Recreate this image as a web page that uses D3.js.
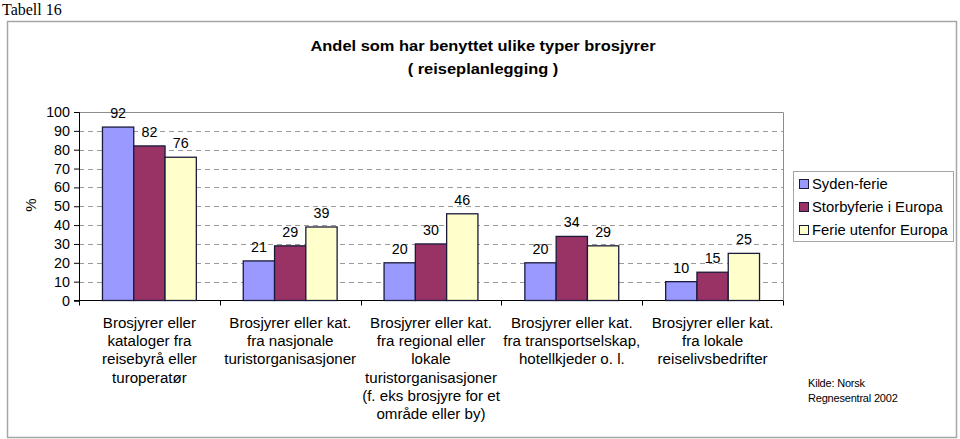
<!DOCTYPE html>
<html>
<head>
<meta charset="utf-8">
<script src="https://cdn.jsdelivr.net/npm/d3@7"></script>
<style>
  html, body { margin: 0; padding: 0; background: #fff; }
  svg { display: block; }
</style>
</head>
<body>
<svg id="chart" width="960" height="439"></svg>
<script>
const categories = [
  ["Brosjyrer eller", "kataloger fra", "reisebyrå eller", "turoperatør"],
  ["Brosjyrer eller kat.", "fra nasjonale", "turistorganisasjoner"],
  ["Brosjyrer eller kat.", "fra regional eller", "lokale", "turistorganisasjoner", "(f. eks brosjyre for et", "område eller by)"],
  ["Brosjyrer eller kat.", "fra transportselskap,", "hotellkjeder o. l."],
  ["Brosjyrer eller kat.", "fra lokale", "reiselivsbedrifter"]
];
const seriesNames = ["Syden-ferie", "Storbyferie i Europa", "Ferie utenfor Europa"];
const sydenFerie = [92, 21, 20, 20, 10];
const storbyferie = [82, 29, 30, 34, 15];
const ferieUtenfor = [76, 39, 46, 29, 25];
const yTicks = [0, 10, 20, 30, 40, 50, 60, 70, 80, 90, 100];
const seriesColors = ["#9999FF", "#993366", "#FFFFCC"];
const titleLines = ["Andel som har benyttet ulike typer brosjyrer", "( reiseplanlegging )"];
const sourceLines = ["Kilde: Norsk", "Regnesentral 2002"];

const series = [sydenFerie, storbyferie, ferieUtenfor];
const svg = d3.select("#chart");
const font = "'Liberation Sans', Arial, sans-serif";

// Header text
svg.append("text").attr("x", 2).attr("y", 15)
  .attr("font-family", "'Liberation Serif', 'Times New Roman', serif")
  .attr("font-size", 16).attr("fill", "#000").text("Tabell 16");

// Outer frame
svg.append("rect").attr("x", 7.5).attr("y", 21.5).attr("width", 949).attr("height", 416)
  .attr("fill", "#fff").attr("stroke", "#a6a6a6").attr("stroke-width", 1.5);

// Title
svg.selectAll("text.title").data(titleLines).enter().append("text")
  .attr("class", "title")
  .attr("transform", (d, i) => `translate(483,${51 + i * 22.5}) scale(1.06,1)`)
  .attr("text-anchor", "middle").attr("font-family", font)
  .attr("font-weight", "bold").attr("font-size", 15.5).text(d => d);

const plot = { left: 79, right: 783, top: 112, bottom: 300.5 };

const x0 = d3.scaleBand().domain(d3.range(categories.length))
  .range([plot.left, plot.right]).paddingInner(0).paddingOuter(0);
const x1 = d3.scaleBand().domain(d3.range(series.length))
  .range([0, x0.bandwidth() * 2 / 3]);
const groupOffset = x0.bandwidth() / 6;
const y = d3.scaleLinear().domain([0, 100]).range([plot.bottom, plot.top]);

// Gridlines
svg.append("g").selectAll("line").data(yTicks.filter(t => t > 0 && t < 100)).enter()
  .append("line")
  .attr("x1", plot.left).attr("x2", plot.right)
  .attr("y1", d => Math.round(y(d)) + 0.5).attr("y2", d => Math.round(y(d)) + 0.5)
  .attr("stroke", "#9a9a9a").attr("stroke-dasharray", "5,4").attr("stroke-width", 1);

// Plot border (top/right)
svg.append("path")
  .attr("d", `M${plot.left},${Math.round(plot.top) + 0.5}H${plot.right + 0.5}V${plot.bottom}`)
  .attr("fill", "none").attr("stroke", "#8c8c8c").attr("stroke-width", 1);

// Y axis
const yAxis = d3.axisLeft(y).tickValues(yTicks).tickSize(5).tickPadding(4);
const gy = svg.append("g").attr("transform", `translate(${plot.left},0)`).call(yAxis);
gy.select(".domain").attr("stroke", "#000");
gy.selectAll(".tick line").attr("stroke", "#000");
gy.selectAll(".tick text").attr("font-family", font).attr("font-size", 14.3).attr("fill", "#000");

// X axis (bottom line + ticks at band boundaries)
svg.append("line").attr("x1", plot.left - 5).attr("x2", plot.right)
  .attr("y1", plot.bottom).attr("y2", plot.bottom).attr("stroke", "#000");
svg.append("g").selectAll("line").data(d3.range(categories.length + 1)).enter()
  .append("line")
  .attr("x1", i => Math.round(plot.left + i * x0.bandwidth()) + 0.5)
  .attr("x2", i => Math.round(plot.left + i * x0.bandwidth()) + 0.5)
  .attr("y1", plot.bottom).attr("y2", plot.bottom + 5).attr("stroke", "#000");

// Y axis label
svg.append("text").attr("transform", "translate(36,205) rotate(-90)")
  .attr("text-anchor", "middle").attr("font-family", font).attr("font-size", 15).text("%");

// Bars
const groups = svg.append("g").selectAll("g").data(categories).enter().append("g")
  .attr("transform", (d, i) => `translate(${x0(i) + groupOffset},0)`);
groups.selectAll("rect").data((d, i) => series.map((s, j) => ({ j, v: s[i] }))).enter()
  .append("rect")
  .attr("x", d => x1(d.j)).attr("width", x1.bandwidth())
  .attr("y", d => y(d.v)).attr("height", d => y(0) - y(d.v))
  .attr("fill", d => seriesColors[d.j]).attr("stroke", "#1a1a3a").attr("stroke-width", 1.3);
groups.selectAll("text").data((d, i) => series.map((s, j) => ({ j, v: s[i] }))).enter()
  .append("text")
  .attr("x", d => x1(d.j) + x1.bandwidth() / 2).attr("y", d => y(d.v) - 9)
  .attr("text-anchor", "middle").attr("font-family", font).attr("font-size", 14.3)
  .text(d => d.v);

// Category labels
const catG = svg.append("g").selectAll("text").data(categories).enter().append("text")
  .attr("text-anchor", "middle").attr("font-family", font).attr("font-size", 14)
  .attr("transform", (d, i) => `translate(${x0(i) + x0.bandwidth() / 2},328) scale(1.08,1)`);
catG.selectAll("tspan").data(d => d).enter().append("tspan")
  .attr("x", 0).attr("y", (d, i) => i * 18.2).text(d => d);

// Legend
const legend = svg.append("g");
legend.append("rect").attr("x", 793.5).attr("y", 171.5).attr("width", 160).attr("height", 70)
  .attr("fill", "#fff").attr("stroke", "#a6a6a6");
const li = legend.selectAll("g.item").data(seriesNames).enter().append("g")
  .attr("transform", (d, i) => `translate(799,${184 + i * 23})`);
li.append("rect").attr("x", 0.5).attr("y", -4.5).attr("width", 9).attr("height", 9)
  .attr("fill", (d, i) => seriesColors[i]).attr("stroke", "#1a1a3a");
li.append("text").attr("x", 13).attr("y", 5).attr("font-family", font).attr("font-size", 14.8)
  .text(d => d);

// Source
svg.selectAll("text.src").data(sourceLines).enter().append("text").attr("class", "src")
  .attr("x", 808).attr("y", (d, i) => 387 + i * 15)
  .attr("font-family", font).attr("font-size", 11).attr("letter-spacing", -0.2).text(d => d);
</script>
</body>
</html>
